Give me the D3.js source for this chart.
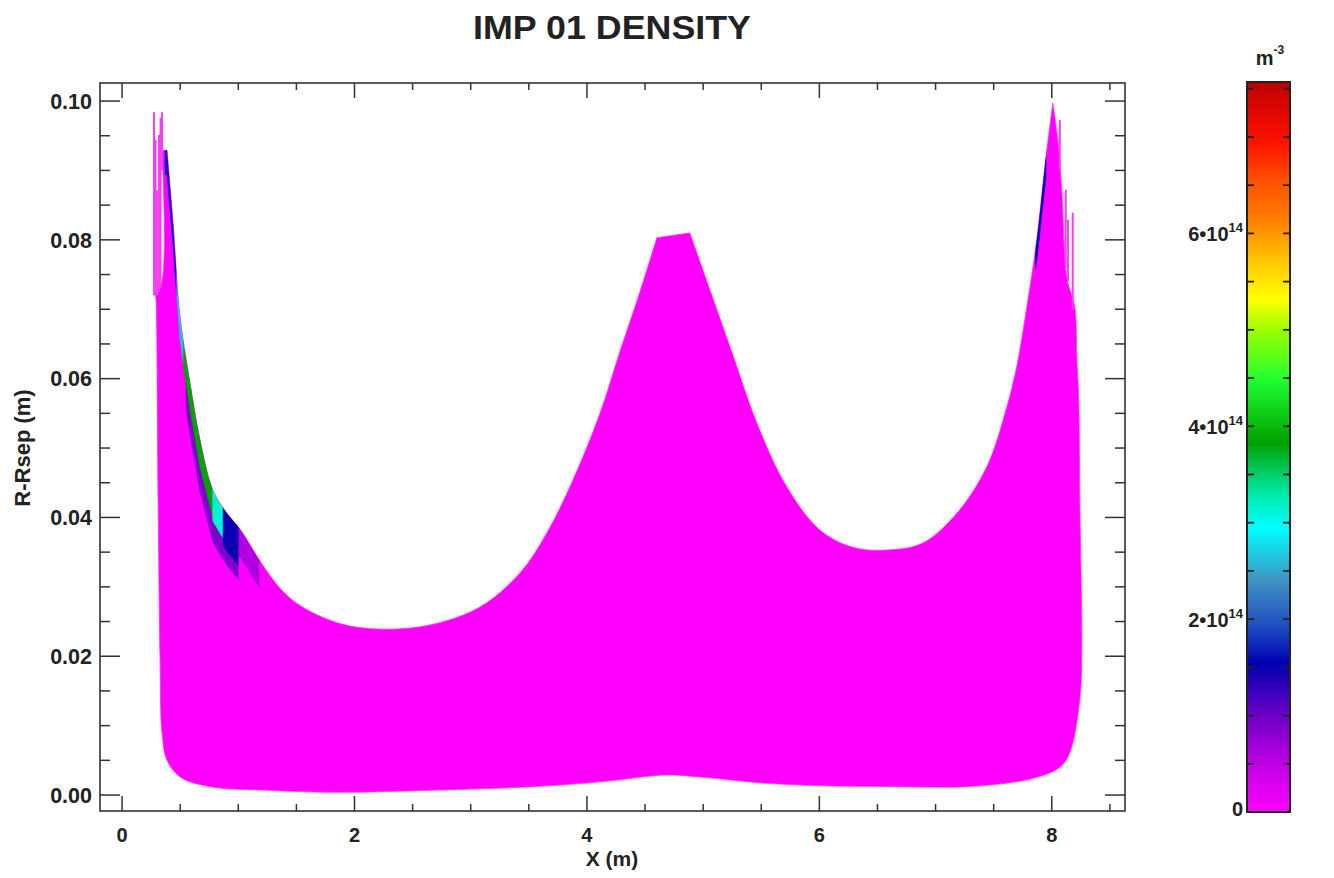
<!DOCTYPE html>
<html><head><meta charset="utf-8">
<script src="https://cdn.jsdelivr.net/npm/d3@7"></script>
<style>
body{margin:0;background:#fff}
svg{display:block}
text{font-family:"Liberation Sans",Arial,Helvetica,sans-serif;font-weight:bold;fill:#222}
</style>
</head><body>
<svg id="chart" width="1334" height="878"></svg>
<script>
// ---------- DATA ----------
const title = "IMP 01 DENSITY";
const xLabel = "X (m)";
const yLabel = "R-Rsep (m)";
const unitLabel = "m";
const unitExp = "-3";

const xMajorTicks = [0, 2, 4, 6, 8];
const xMinorTicks = [0.5, 1, 1.5, 2.5, 3, 3.5, 4.5, 5, 5.5, 6.5, 7, 7.5, 8.5];
const yMajorTicks = [0, 0.02, 0.04, 0.06, 0.08, 0.10];
const yMinorTicks = [0.005, 0.01, 0.015, 0.025, 0.03, 0.035, 0.045, 0.05, 0.055, 0.065, 0.07, 0.075, 0.085, 0.09, 0.095];
const xDomain = [-0.19, 8.63];
const yDomain = [-0.0023, 0.1026];

// top contour of the grid (left to right)
const topX = [0.284, 0.335, 0.345, 0.387, 0.439, 0.499, 0.585, 0.671, 0.783, 0.903, 1.015, 1.200, 1.359, 1.531, 1.875, 2.219, 2.649, 3.080, 3.424, 3.656, 3.880, 4.112, 4.280, 4.456, 4.602, 4.886, 5.058, 5.256, 5.462, 5.720, 6.004, 6.288, 6.581, 6.890, 7.183, 7.441, 7.613, 7.699, 7.785, 7.871, 7.940, 8.009, 8.052, 8.086, 8.129, 8.198];
const topY = [0.0728, 0.0735, 0.0929, 0.0929, 0.0824, 0.0689, 0.0594, 0.0512, 0.0439, 0.0406, 0.0383, 0.0334, 0.0298, 0.0273, 0.0247, 0.0239, 0.0245, 0.0271, 0.0320, 0.0378, 0.0454, 0.0550, 0.0637, 0.0725, 0.0803, 0.0810, 0.0728, 0.0634, 0.0536, 0.0444, 0.0382, 0.0357, 0.0353, 0.0363, 0.0406, 0.0473, 0.0559, 0.0618, 0.0703, 0.0800, 0.0905, 0.0997, 0.0944, 0.0872, 0.0746, 0.0703];
// right edge, bottom contour and left edge (right to left)
const bottomX = [8.215, 8.232, 8.241, 8.258, 8.241, 8.155, 8.069, 7.837, 7.269, 6.692, 6.116, 5.548, 4.972, 4.688, 4.112, 3.535, 2.675, 1.815, 1.247, 0.757, 0.499, 0.387, 0.344, 0.327, 0.310, 0.292];
const bottomY = [0.0631, 0.0569, 0.0425, 0.0209, 0.0137, 0.0061, 0.0040, 0.0024, 0.0012, 0.0012, 0.0013, 0.0017, 0.0026, 0.0029, 0.0019, 0.0012, 0.0007, 0.0004, 0.0007, 0.0012, 0.0026, 0.0050, 0.0089, 0.0195, 0.0425, 0.0713];

// target-plate spikes of the outer rings
const spikeX   = [0.275, 0.288, 0.301, 0.318, 0.331, 0.344, 8.069, 8.120, 8.140, 8.180];
const spikeTop = [0.0984, 0.0944, 0.0872, 0.0951, 0.0976, 0.0984, 0.0973, 0.0872, 0.0829, 0.0839];
const spikeBot = [0.0720, 0.0720, 0.0720, 0.0725, 0.0730, 0.0900, 0.0900, 0.0760, 0.0740, 0.0700];

// cells with non-zero density along the outer edge: x range, depth below the edge, density (m^-3)
const cellX0 = [0.55, 0.87, 1.00, 0.37, 0.47, 0.53, 0.78, 0.87, 7.86];
const cellX1 = [0.87, 1.00, 1.18, 0.47, 0.53, 0.78, 0.87, 1.00, 7.95];
const cellD0 = [0.0035, 0.0055, 0.0000, 0.0000, 0.0000, 0.0000, 0.0000, 0.0000, 0.0000];
const cellD1 = [0.0075, 0.0075, 0.0040, 0.0035, 0.0035, 0.0040, 0.0045, 0.0055, 0.0030];
const cellV  = [0.9e14, 0.9e14, 0.6e14, 1.7e14, 2.6e14, 3.85e14, 3.15e14, 1.5e14, 1.6e14];

// colour table
const cbMax = 7.57e14;
const cbStops = [0, 0.454e14, 0.984e14, 1.552e14, 1.945e14, 2.385e14, 2.952e14, 3.331e14, 3.838e14, 4.489e14, 5.011e14, 5.322e14, 5.753e14, 6.132e14, 6.548e14, 6.964e14, 7.57e14];
const cbColors = ["#ff00ff", "#c800e8", "#7000c8", "#0000b0", "#2050c0", "#4090c0", "#00ffff", "#00e8a0", "#00a000", "#20ff30", "#a0ff00", "#ffff00", "#ffc000", "#ff8000", "#ff5000", "#ff1000", "#c00000"];
const cbTickMajor = [0, 2e14, 4e14, 6e14];
const cbTickLabels = [["0", ""], ["2\u202210", "14"], ["4\u202210", "14"], ["6\u202210", "14"]];
const cbTickMinor = [0.5e14, 1e14, 1.5e14, 2.5e14, 3e14, 3.5e14, 4.5e14, 5e14, 5.5e14, 6.5e14, 7e14, 7.5e14];

// ---------- DRAWING ----------
const svg = d3.select("#chart");
const plot = {l: 100, r: 1125, t: 83, b: 811};
const x = d3.scaleLinear().domain(xDomain).range([plot.l, plot.r]);
const y = d3.scaleLinear().domain(yDomain).range([plot.b, plot.t]);
const color = d3.scaleLinear().domain(cbStops).range(cbColors).clamp(true);

svg.append("text").attr("x", 612).attr("y", 39).attr("text-anchor", "middle")
  .attr("font-size", 33).attr("textLength", 278).attr("lengthAdjust", "spacingAndGlyphs").text(title);

const outline = topX.map((v, i) => [v, topY[i]]).concat(bottomX.map((v, i) => [v, bottomY[i]]));
const line = d3.line().x(d => x(d[0])).y(d => y(d[1]));
const curve = d3.line().x(d => x(d[0])).y(d => y(d[1])).curve(d3.curveCatmullRom.alpha(0.5));

// smooth closed outline, keeping sharp corners where the contour turns strongly
function outlinePath(pts) {
  const n = pts.length, px = pts.map(p => [x(p[0]), y(p[1])]);
  const corner = px.map((p, i) => {
    const a = px[(i - 1 + n) % n], b = px[(i + 1) % n];
    const a1 = Math.atan2(p[1] - a[1], p[0] - a[0]), a2 = Math.atan2(b[1] - p[1], b[0] - p[0]);
    let d = Math.abs(a2 - a1); if (d > Math.PI) d = 2 * Math.PI - d;
    return d > 55 * Math.PI / 180;
  });
  const idx = d3.range(n).filter(i => corner[i]);
  let path = "";
  idx.forEach((c, k) => {
    const next = idx[(k + 1) % idx.length];
    const seg = [];
    for (let i = c; ; i = (i + 1) % n) { seg.push(pts[i]); if (i === next && seg.length > 1) break; }
    const s = curve(seg);
    path += (k === 0 ? s : "L" + s.slice(1));
  });
  return path + "Z";
}
const outlineD = outlinePath(outline);

svg.append("clipPath").attr("id", "gridclip").append("path").attr("d", outlineD);

// main grid area (density ~ 0)
svg.append("path").attr("d", outlineD).attr("fill", color(0))
  .attr("stroke", "#f830f8").attr("stroke-width", 0.8).attr("stroke-linejoin", "round");

// spikes
svg.append("g").selectAll("line").data(spikeX).join("line")
  .attr("x1", d => x(d)).attr("x2", d => x(d))
  .attr("y1", (d, i) => y(spikeTop[i])).attr("y2", (d, i) => y(spikeBot[i]))
  .attr("stroke", "#f040f0").attr("stroke-width", 2);

// edge cells
const topAt = d3.scaleLinear().domain(topX).range(topY);
function cellPoly(i) {
  const x0 = cellX0[i], x1 = cellX1[i];
  const xs = [x0].concat(topX.filter(v => v > x0 && v < x1), [x1]);
  const up = xs.map(v => [v, topAt(v) - cellD0[i] + (cellD0[i] === 0 ? 0.002 : 0)]);
  const lo = xs.map(v => [v, topAt(v) - cellD1[i]]).reverse();
  return line(up.concat(lo)) + "Z";
}
svg.append("g").attr("clip-path", "url(#gridclip)").selectAll("path").data(cellV).join("path")
  .attr("d", (d, i) => cellPoly(i)).attr("fill", d => color(d)).attr("stroke", d => color(d)).attr("stroke-width", 0.6);

// frame + ticks
const frame = svg.append("g").attr("stroke", "#333").attr("fill", "none");
frame.append("rect").attr("x", plot.l).attr("y", plot.t).attr("width", plot.r - plot.l).attr("height", plot.b - plot.t).attr("stroke-width", 1.6);
function xt(vals, len) {
  vals.forEach(v => {
    frame.append("line").attr("x1", x(v)).attr("x2", x(v)).attr("y1", plot.b).attr("y2", plot.b - len).attr("stroke-width", 1.5);
    frame.append("line").attr("x1", x(v)).attr("x2", x(v)).attr("y1", plot.t).attr("y2", plot.t + len).attr("stroke-width", 1.5);
  });
}
function yt(vals, len) {
  vals.forEach(v => {
    frame.append("line").attr("y1", y(v)).attr("y2", y(v)).attr("x1", plot.l).attr("x2", plot.l + len).attr("stroke-width", 1.5);
    frame.append("line").attr("y1", y(v)).attr("y2", y(v)).attr("x1", plot.r).attr("x2", plot.r - len).attr("stroke-width", 1.5);
  });
}
xt(xMajorTicks, 15); xt(xMinorTicks, 7);
yt(yMajorTicks, 20); yt(yMinorTicks, 10);

svg.append("g").selectAll("text").data(xMajorTicks).join("text")
  .attr("x", d => x(d)).attr("y", 842).attr("text-anchor", "middle").attr("font-size", 20).text(d => d);
svg.append("g").selectAll("text").data(yMajorTicks).join("text")
  .attr("x", 92).attr("y", d => y(d)).attr("dy", "0.36em").attr("text-anchor", "end").attr("font-size", 21.5)
  .text(d => d3.format(".2f")(d));
svg.append("text").attr("x", 612).attr("y", 866).attr("text-anchor", "middle").attr("font-size", 21).text(xLabel);
svg.append("text").attr("transform", "translate(30,448) rotate(-90)").attr("text-anchor", "middle").attr("font-size", 22).text(yLabel);

// colour bar
const cb = {l: 1247, r: 1290, t: 82, b: 812};
const cy = d3.scaleLinear().domain([0, cbMax]).range([cb.b, cb.t]);
const steps = d3.range(0, 365).map(i => i * cbMax / 365);
svg.append("g").selectAll("rect").data(steps).join("rect")
  .attr("x", cb.l).attr("width", cb.r - cb.l)
  .attr("y", d => cy(d + cbMax / 365) - 0.5).attr("height", d => cy(d) - cy(d + cbMax / 365) + 1)
  .attr("fill", d => color(d + cbMax / 730));
const cbf = svg.append("g").attr("stroke", "#222").attr("fill", "none");
cbf.append("rect").attr("x", cb.l).attr("y", cb.t).attr("width", cb.r - cb.l).attr("height", cb.b - cb.t).attr("stroke-width", 2);
cbTickMajor.concat(cbTickMinor).forEach(v => {
  cbf.append("line").attr("x1", cb.l).attr("x2", cb.l + 7).attr("y1", cy(v)).attr("y2", cy(v)).attr("stroke-width", 1.8);
  cbf.append("line").attr("x1", cb.r).attr("x2", cb.r - 7).attr("y1", cy(v)).attr("y2", cy(v)).attr("stroke-width", 1.8);
});
cbTickMajor.forEach((v, i) => {
  const t = svg.append("text").attr("x", 1243).attr("y", cy(v) + (i === 0 ? 4 : 8)).attr("text-anchor", "end").attr("font-size", 20);
  t.append("tspan").text(cbTickLabels[i][0]);
  if (cbTickLabels[i][1]) t.append("tspan").attr("font-size", 13).attr("dy", -9).text(cbTickLabels[i][1]);
});
const u = svg.append("text").attr("x", 1270).attr("y", 65).attr("text-anchor", "middle").attr("font-size", 20);
u.append("tspan").text(unitLabel);
u.append("tspan").attr("font-size", 12).attr("dy", -11).text(unitExp);
</script>
</body></html>
